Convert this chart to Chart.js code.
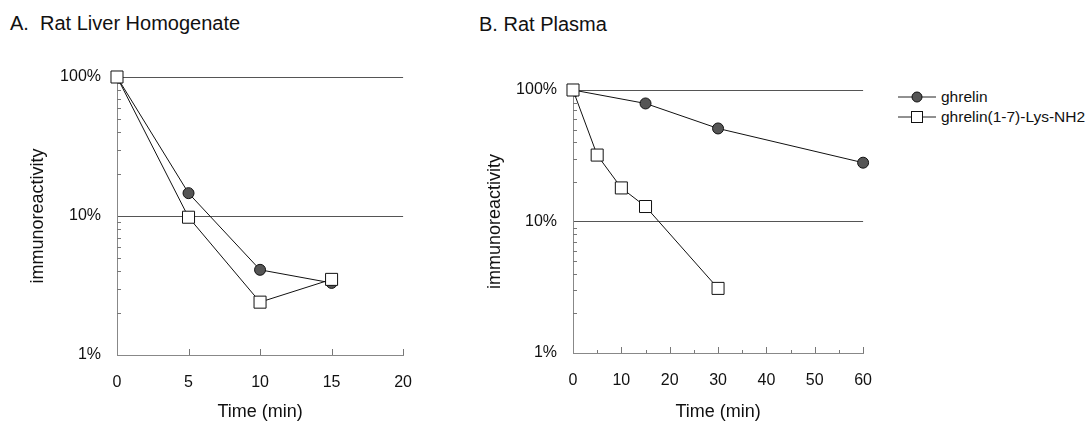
<!DOCTYPE html>
<html>
<head>
<meta charset="utf-8">
<script src="https://cdn.jsdelivr.net/npm/chart.js@4.4.0/dist/chart.umd.min.js"></script>
<style>
    body { margin: 0; background: #fff; width: 1087px; height: 421px; overflow: hidden; position: relative;
           font-family: "Liberation Sans", Arial, sans-serif; color: #111; }
    .panel-title { position: absolute; font-size: 20px; white-space: pre; }
    .box { position: absolute; top: 50px; }
    .legend { position: absolute; left: 898px; top: 87px; font-size: 15.5px; white-space: nowrap; }
    .legend div { display: flex; align-items: center; height: 20px; }
    .legend svg { margin-right: 3px; flex: none; }
</style>
</head>
<body>
<div class="panel-title" style="left:10px; top:12px;">A.  Rat Liver Homogenate</div>
<div class="panel-title" style="left:479px; top:13px;">B. Rat Plasma</div>
<canvas id="chartA" class="box" style="left:0px;" width="430" height="371"></canvas>
<canvas id="chartB" class="box" style="left:460px;" width="430" height="371"></canvas>
<div class="legend">
    <div><svg width="40" height="14"><line x1="0" y1="7" x2="38" y2="7" stroke="#222" stroke-width="1"/><circle cx="19" cy="7" r="5" fill="#555" stroke="#111"/></svg>ghrelin</div>
    <div><svg width="40" height="14"><line x1="0" y1="7" x2="38" y2="7" stroke="#222" stroke-width="1"/><rect x="13.5" y="1.5" width="11" height="11" fill="#fff" stroke="#111"/></svg>ghrelin(1-7)-Lys-NH2</div>
</div>
<script>
// Panel A: rat liver homogenate
const timeA = [0, 5, 10, 15];
const ghrelinA = [100, 14.6, 4.1, 3.3];
const analogA = [100, 9.8, 2.4, 3.5];

// Panel B: rat plasma
const timeGhrelinB = [0, 15, 30, 60];
const ghrelinB = [100, 79, 51, 28];
const timeAnalogB = [0, 5, 10, 15, 30];
const analogB = [100, 32, 18, 13, 3.1];

// tick positions
const yMajorTicks = [1, 10, 100];
const yMinorTicks = [2, 3, 4, 5, 6, 7, 8, 9, 20, 30, 40, 50, 60, 70, 80, 90];

const FONT = "'Liberation Sans', Arial, sans-serif";
const toPoints = (xs, ys) => xs.map((x, i) => ({ x: x, y: ys[i] }));

// small inward tick marks like the original plot
const innerTicks = {
    id: "innerTicks",
    beforeDatasetsDraw(chart, args, opts) {
        const { ctx, scales: { x, y } } = chart;
        ctx.save();
        ctx.strokeStyle = "#777";
        ctx.lineWidth = 1;
        ctx.beginPath();
        yMinorTicks.forEach((v) => {
            const py = Math.round(y.getPixelForValue(v)) + 0.5;
            ctx.moveTo(x.left, py);
            ctx.lineTo(x.left + 4, py);
        });
        opts.xMajor.forEach((v) => {
            const px = Math.round(x.getPixelForValue(v)) + 0.5;
            ctx.moveTo(px, y.bottom);
            ctx.lineTo(px, y.bottom - 6);
        });
        opts.xMinor.forEach((v) => {
            const px = Math.round(x.getPixelForValue(v)) + 0.5;
            ctx.moveTo(px, y.bottom);
            ctx.lineTo(px, y.bottom - 3);
        });
        ctx.stroke();
        ctx.restore();
    },
};

function makeChart(id, datasets, xMax, xStep, xMinor, yWidth, xHeight, padding, yTitlePad) {
    const xMajor = [];
    for (let v = xStep; v <= xMax; v += xStep) xMajor.push(v);

    return new Chart(document.getElementById(id), {
        type: "line",
        data: { datasets: datasets },
        plugins: [innerTicks],
        options: {
            responsive: false,
            animation: false,
            layout: { padding: padding },
            plugins: {
                legend: { display: false },
                tooltip: { enabled: false },
                innerTicks: { xMajor: xMajor, xMinor: xMinor },
            },
            scales: {
                x: {
                    type: "linear",
                    min: 0,
                    max: xMax,
                    afterFit: (s) => { s.height = xHeight; },
                    grid: { display: false, drawTicks: false },
                    border: { display: true, color: "#888", width: 1 },
                    ticks: { stepSize: xStep, padding: 18, color: "#111", font: { family: FONT, size: 16 } },
                    title: { display: true, text: "Time (min)", color: "#111", padding: 0,
                             font: { family: FONT, size: 18, lineHeight: 1 } },
                },
                y: {
                    type: "logarithmic",
                    min: 1,
                    max: 100,
                    afterFit: (s) => { s.width = yWidth; },
                    afterBuildTicks: (s) => { s.ticks = yMajorTicks.map((v) => ({ value: v })); },
                    grid: {
                        drawTicks: false,
                        color: (c) => (c.tick && c.tick.value === 1 ? "rgba(0,0,0,0)" : "#555"),
                    },
                    border: { display: true, color: "#888", width: 1 },
                    ticks: {
                        padding: 16,
                        color: "#111",
                        font: { family: FONT, size: 16 },
                        callback: (v) => v + "%",
                    },
                    title: { display: true, text: "immunoreactivity", color: "#111",
                             padding: { top: yTitlePad, bottom: 0 }, font: { family: FONT, size: 18 } },
                },
            },
        },
    });
}

function series(label, points, isCircle, order) {
    return {
        label: label,
        data: points,
        order: order,
        clip: false,
        borderColor: "#111",
        borderWidth: 1,
        tension: 0,
        pointStyle: isCircle ? "circle" : "rect",
        pointRadius: isCircle ? 5.5 : 8.5,
        pointBackgroundColor: isCircle ? "#555" : "#fff",
        pointBorderColor: "#111",
        pointBorderWidth: 1,
    };
}

makeChart("chartA", [
    series("ghrelin", toPoints(timeA, ghrelinA), true, 1),
    series("ghrelin(1-7)-Lys-NH2", toPoints(timeA, analogA), false, 0),
], 20, 5, [], 117, 66, { top: 27, right: 18, left: 0, bottom: 0 }, 27);

makeChart("chartB", [
    series("ghrelin", toPoints(timeGhrelinB, ghrelinB), true, 1),
    series("ghrelin(1-7)-Lys-NH2", toPoints(timeAnalogB, analogB), false, 0),
], 60, 10, [5, 15, 25, 35, 45, 55], 113, 68, { top: 40, right: 21, left: 0, bottom: 0 }, 24);
</script>
</body>
</html>
